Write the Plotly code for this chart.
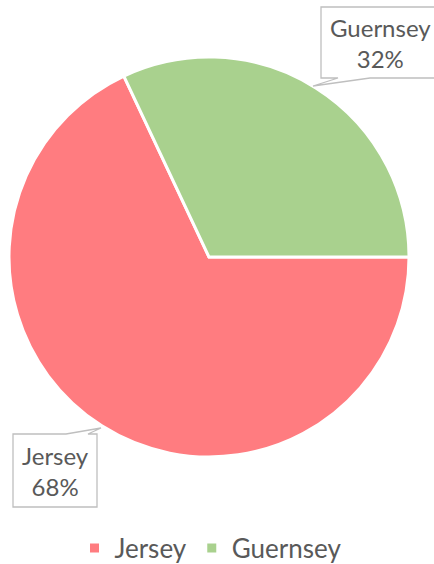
import plotly.graph_objects as go

# Herd composition by breed
breeds = ["Jersey", "Guernsey"]
shares = [68, 32]
colors = ["#FF7C80", "#A9D18E"]

W, H = 434, 564
FONT = "Lato"
GREY = "#595959"


def px(x):
    return x / W


def py(y):
    return 1 - y / H


fig = go.Figure(
    go.Pie(
        labels=breeds,
        values=shares,
        sort=False,
        direction="clockwise",
        rotation=90,
        marker=dict(colors=colors, line=dict(color="white", width=3)),
        textinfo="none",
        hoverinfo="label+percent",
        domain=dict(x=[px(9), px(409)], y=[py(457), py(57)]),
    )
)


def callout_path(box, base, tip):
    """Rectangle callout with a wedge pointer; box=(x0,y0,x1,y1) in px."""
    x0, y0, x1, y1 = box
    (bx0, by), (bx1, _) = base
    tx, ty = tip
    if by == y1:  # pointer leaves the bottom edge
        pts = [(x0, y0), (x1, y0), (x1, y1), (bx1, y1), (tx, ty), (bx0, y1), (x0, y1)]
    else:  # pointer leaves the top edge
        pts = [(x0, y0), (bx0, y0), (tx, ty), (bx1, y0), (x1, y0), (x1, y1), (x0, y1)]
    return "M " + " L ".join(f"{px(x):.5f},{py(y):.5f}" for x, y in pts) + " Z"


callouts = {
    "Guernsey": dict(box=(321, 7, 438, 78), base=((338, 78), (370, 78)),
                     tip=(313, 86), text_at=(380, 43)),
    "Jersey": dict(box=(13, 434, 97, 507), base=((66, 434), (88, 434)),
                   tip=(101, 428), text_at=(55, 471)),
}

shapes = []
annotations = []
for name, share in zip(breeds, shares):
    c = callouts[name]
    shapes.append(
        dict(
            type="path",
            xref="paper",
            yref="paper",
            path=callout_path(c["box"], c["base"], c["tip"]),
            line=dict(color="#BFBFBF", width=1.3),
            fillcolor="white",
            layer="above",
        )
    )
    tx, ty = c["text_at"]
    annotations.append(
        dict(
            xref="paper",
            yref="paper",
            x=px(tx),
            y=py(ty),
            text=f"{name}<br>{share}%",
            showarrow=False,
            font=dict(family=FONT, size=24, color=GREY),
            align="center",
            xanchor="center",
            yanchor="middle",
        )
    )

fig.update_layout(
    width=W,
    height=H,
    margin=dict(l=0, r=0, t=0, b=0, autoexpand=False),
    paper_bgcolor="white",
    plot_bgcolor="white",
    shapes=shapes,
    annotations=annotations,
    showlegend=True,
    legend=dict(
        orientation="h",
        x=0.485,
        xanchor="center",
        y=py(548),
        yanchor="middle",
        font=dict(family=FONT, size=26, color=GREY),
        itemwidth=30,
        traceorder="normal",
    ),
)

fig.write_html("out.html")
